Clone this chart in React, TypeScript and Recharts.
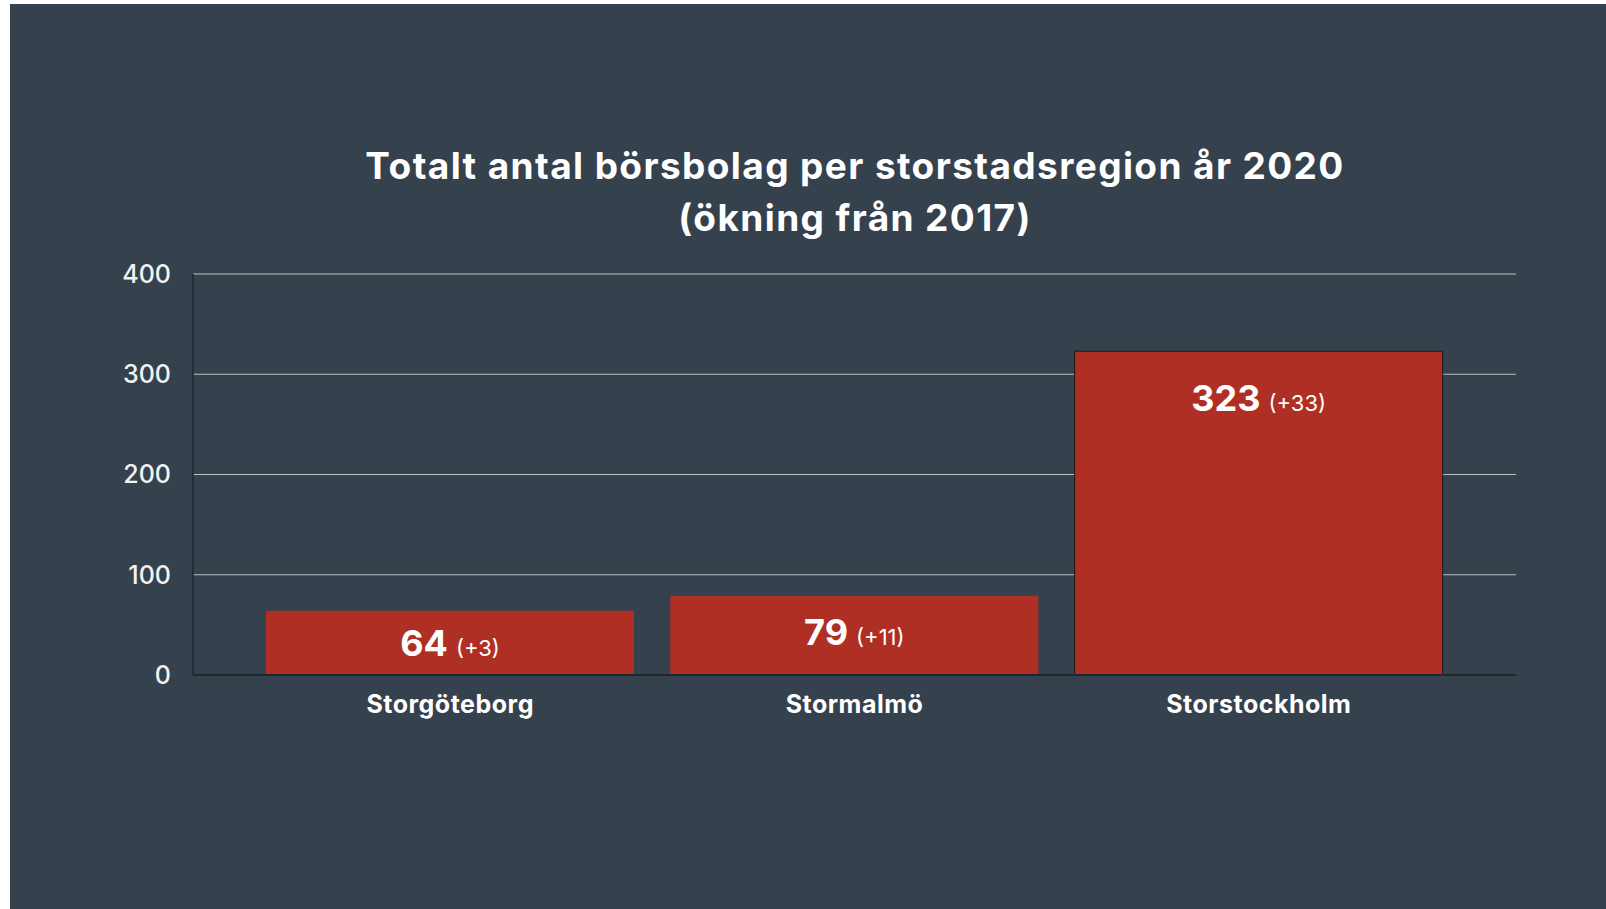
import { BarChart, Bar, XAxis, YAxis, CartesianGrid, LabelList, Cell } from 'recharts';

const regions = ['Storgöteborg', 'Stormalmö', 'Storstockholm'];
const totals = [64, 79, 323];
const increases = [3, 11, 33];
const yTicks = [0, 100, 200, 300, 400];

const data = regions.map((name, i) => ({ name, total: totals[i], increase: increases[i] }));

const FONT = 'Inter, "Noto Sans", sans-serif';
const BG = '#36414e';
const BAR = '#b02f24';

const ValueLabel = (props: any) => {
  const { x, y, width, height, index } = props;
  const cx = x + width / 2;
  const cy = y + Math.min(height / 2, 32 + height * 0.047);
  return (
    <text x={cx} y={cy + 13} textAnchor="middle" fill="#ffffff" fontFamily={FONT}>
      <tspan fontSize={36} fontWeight={700}>{totals[index]}</tspan>
      <tspan fontSize={22} fontWeight={400} dx={8}>{`(+${increases[index]})`}</tspan>
    </text>
  );
};

const App = () => {
  return (
    <div style={{ position: 'absolute', left: 10, top: 4, width: 1596, height: 905, background: BG }}>
      <div
        style={{
          position: 'absolute',
          left: 0,
          width: 1690,
          top: 136,
          textAlign: 'center',
          color: '#ffffff',
          fontFamily: FONT,
          fontWeight: 700,
          fontSize: 37,
          letterSpacing: '1.4px',
          lineHeight: '52px',
        }}
      >
        Totalt antal börsbolag per storstadsregion år 2020
        <br />
        (ökning från 2017)
      </div>
      <BarChart
        width={1596}
        height={905}
        data={data}
        margin={{ top: 270, right: 90, bottom: 174, left: 0 }}
        barCategoryGap={18}
        style={{ position: 'absolute', left: 0, top: 0 }}
      >
        <CartesianGrid vertical={false} stroke="#b9bfc6" strokeWidth={1} />
        <XAxis
          dataKey="name"
          height={60}
          padding={{ left: 55, right: 55 }}
          axisLine={{ stroke: '#1f2731', strokeWidth: 2 }}
          tickLine={false}
          tickSize={0}
          tickMargin={20}
          tick={{ fill: '#ffffff', fontSize: 25, fontWeight: 700, fontFamily: FONT, letterSpacing: 0.5 }}
        />
        <YAxis
          width={183}
          domain={[0, 400]}
          ticks={yTicks}
          axisLine={{ stroke: '#1f2731', strokeWidth: 1.5 }}
          tickLine={false}
          tickSize={0}
          tickMargin={22}
          tick={{ fill: '#f2f2f2', fontSize: 25, fontWeight: 500, fontFamily: FONT }}
        />
        <Bar dataKey="total" fill={BAR} isAnimationActive={false}>
          {data.map((d, i) => (
            <Cell key={d.name} fill={BAR} stroke={i === 2 ? '#1a1a1a' : 'none'} strokeWidth={1} />
          ))}
          <LabelList dataKey="total" content={ValueLabel} />
        </Bar>
      </BarChart>
    </div>
  );
};

export default App;
